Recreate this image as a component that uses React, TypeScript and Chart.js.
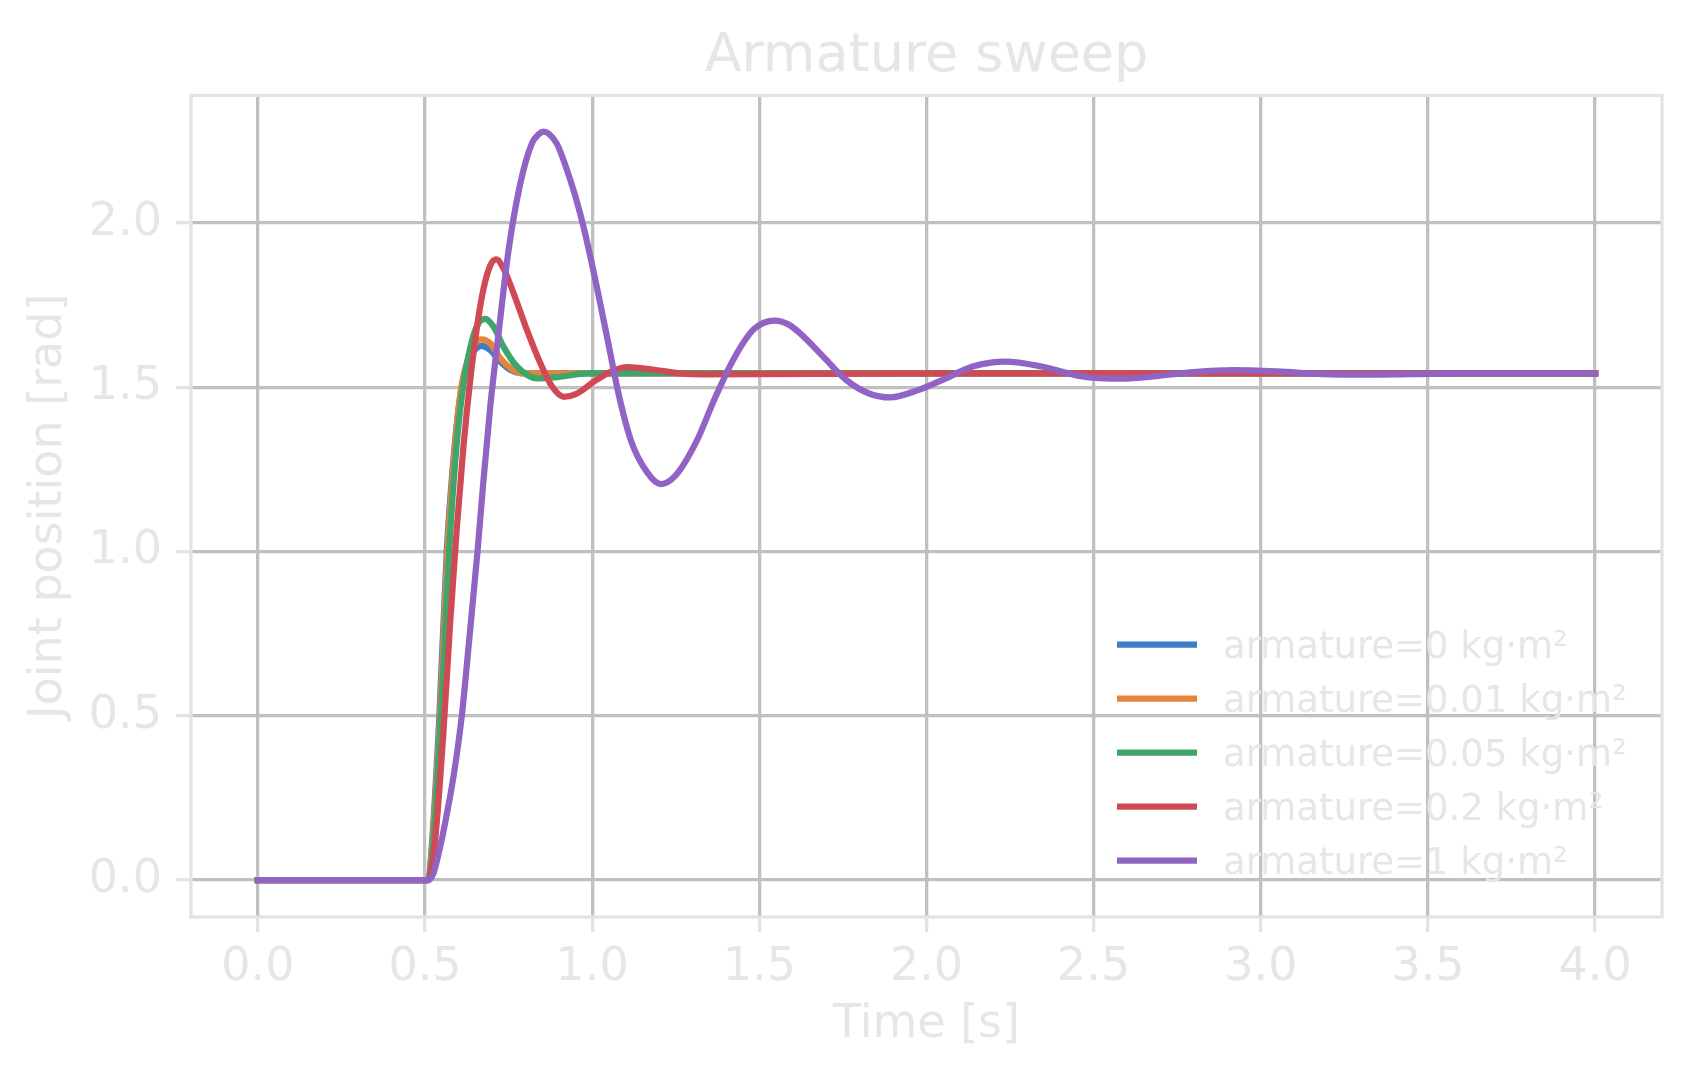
import React, { useEffect, useRef } from 'react';
import { Chart, registerables } from 'chart.js';

Chart.register(...registerables);

const chartTitle = 'Armature sweep';
const xLabel = 'Time [s]';
const yLabel = 'Joint position [rad]';

const xTicks = [0, 0.5, 1, 1.5, 2, 2.5, 3, 3.5, 4];
const yTicks = [0, 0.5, 1, 1.5, 2];

const seriesLabels = [
  'armature=0 kg·m²',
  'armature=0.01 kg·m²',
  'armature=0.05 kg·m²',
  'armature=0.2 kg·m²',
  'armature=1 kg·m²',
];
const seriesColors = ['#3a7dc8', '#e8833a', '#3ea66b', '#d04a56', '#9063c5'];

// armature = 0
const timeA0 = [0, 0.5, 0.51, 0.52, 0.543, 0.565, 0.585, 0.605, 0.63, 0.65, 0.668, 0.695, 0.725, 0.755, 0.785, 0.85, 1.0, 2.0, 3.0, 4.0];
const posA0 = [0, 0, 0, 0.1, 0.5, 1.0, 1.28, 1.47, 1.58, 1.615, 1.626, 1.613, 1.578, 1.553, 1.543, 1.542, 1.542, 1.542, 1.542, 1.542];

// armature = 0.01
const timeA1 = [0, 0.5, 0.51, 0.521, 0.545, 0.567, 0.587, 0.607, 0.632, 0.652, 0.668, 0.695, 0.725, 0.755, 0.795, 0.85, 1.0, 2.0, 3.0, 4.0];
const posA1 = [0, 0, 0, 0.1, 0.5, 1.0, 1.29, 1.49, 1.595, 1.635, 1.646, 1.634, 1.588, 1.558, 1.542, 1.542, 1.542, 1.542, 1.542, 1.542];

// armature = 0.05
const timeA2 = [0, 0.5, 0.51, 0.525, 0.548, 0.572, 0.595, 0.615, 0.64, 0.66, 0.68, 0.705, 0.735, 0.775, 0.835, 0.905, 0.985, 1.2, 2.0, 3.0, 4.0];
const posA2 = [0, 0, 0, 0.12, 0.5, 1.0, 1.33, 1.51, 1.64, 1.695, 1.708, 1.684, 1.623, 1.563, 1.527, 1.532, 1.542, 1.543, 1.542, 1.542, 1.542];

// armature = 0.2
const timeA3 = [0, 0.5, 0.51, 0.53, 0.555, 0.575, 0.595, 0.615, 0.635, 0.655, 0.675, 0.695, 0.713, 0.735, 0.765, 0.805, 0.845, 0.88, 0.915, 0.955, 1.005, 1.055, 1.105, 1.185, 1.265, 1.33, 2.0, 3.0, 4.0];
const posA3 = [0, 0, 0, 0.12, 0.45, 0.78, 1.07, 1.32, 1.52, 1.68, 1.8, 1.87, 1.889, 1.861, 1.786, 1.674, 1.573, 1.502, 1.471, 1.481, 1.517, 1.547, 1.561, 1.553, 1.542, 1.539, 1.542, 1.542, 1.542];

// armature = 1
const timeA4 = [0, 0.5, 0.51, 0.525, 0.545, 0.565, 0.586, 0.61, 0.633, 0.657, 0.675, 0.695, 0.72, 0.75, 0.785, 0.82, 0.84, 0.855, 0.87, 0.895, 0.92, 0.95, 0.975, 1.015, 1.05, 1.08, 1.117, 1.163, 1.205, 1.25, 1.312, 1.369, 1.427, 1.484, 1.547, 1.585, 1.622, 1.691, 1.76, 1.828, 1.892, 1.977, 2.058, 2.138, 2.236, 2.345, 2.46, 2.586, 2.69, 2.8, 2.917, 3.05, 3.17, 3.288, 3.45, 3.6, 4.0];
const posA4 = [0, 0, 0, 0.02, 0.1, 0.2, 0.32, 0.5, 0.74, 1.0, 1.218, 1.44, 1.664, 1.918, 2.12, 2.243, 2.27, 2.278, 2.272, 2.24, 2.175, 2.08, 1.985, 1.8, 1.625, 1.475, 1.335, 1.243, 1.205, 1.232, 1.335, 1.471, 1.593, 1.677, 1.703, 1.692, 1.664, 1.593, 1.522, 1.481, 1.469, 1.492, 1.527, 1.563, 1.578, 1.563, 1.534, 1.526, 1.534, 1.546, 1.552, 1.548, 1.541, 1.538, 1.54, 1.542, 1.542];

const seriesTimes = [timeA0, timeA1, timeA2, timeA3, timeA4];
const seriesPositions = [posA0, posA1, posA2, posA3, posA4];

const FONT = '"DejaVu Sans", sans-serif';
const TEXT = '#e6e6e6';
const SPINE = '#e3e3e3';
const GRID = '#c0c0c0';

// title, legend and axes frame drawn like matplotlib
const overlayPlugin = {
  id: 'overlay',
  afterDraw(chart: any) {
    const { ctx, chartArea: a } = chart;
    ctx.save();
    ctx.strokeStyle = SPINE;
    ctx.lineWidth = 3.3;
    ctx.strokeRect(a.left, a.top, a.right - a.left, a.bottom - a.top);

    ctx.fillStyle = TEXT;
    ctx.font = `54px ${FONT}`;
    ctx.textAlign = 'center';
    ctx.textBaseline = 'alphabetic';
    ctx.fillText(chartTitle, (a.left + a.right) / 2, a.top - 25);

    ctx.font = `37px ${FONT}`;
    ctx.textAlign = 'left';
    chart.data.datasets.forEach((ds: any, i: number) => {
      const base = a.bottom - 259 + i * 54;
      ctx.strokeStyle = ds.borderColor;
      ctx.lineWidth = 6.25;
      ctx.lineCap = 'butt';
      ctx.beginPath();
      ctx.moveTo(a.right - 545, base - 13.5);
      ctx.lineTo(a.right - 465, base - 13.5);
      ctx.stroke();
      ctx.fillStyle = TEXT;
      ctx.fillText(ds.label, a.right - 439, base);
    });
    ctx.restore();
  },
};

export default function App() {
  const canvasRef = useRef<HTMLCanvasElement>(null);
  const chartRef = useRef<Chart | null>(null);

  useEffect(() => {
    if (!canvasRef.current) return;
    if (chartRef.current) chartRef.current.destroy();

    const datasets = seriesLabels.map((label, i) => ({
      label,
      data: seriesTimes[i].map((t, k) => ({ x: t, y: seriesPositions[i][k] })),
      borderColor: seriesColors[i],
      backgroundColor: seriesColors[i],
      borderWidth: 6.25,
      pointRadius: 0,
      cubicInterpolationMode: 'monotone' as const,
      borderCapStyle: 'square' as const,
      borderJoinStyle: 'round' as const,
      order: seriesLabels.length - 1 - i,
    }));

    chartRef.current = new Chart(canvasRef.current, {
      type: 'line',
      data: { datasets },
      plugins: [overlayPlugin],
      options: {
        animation: false,
        responsive: false,
        devicePixelRatio: 1,
        layout: { padding: { top: 95.5, right: 29, left: 0, bottom: 0 } },
        plugins: {
          legend: { display: false },
          title: { display: false },
          tooltip: { enabled: false },
        },
        scales: {
          x: {
            type: 'linear',
            min: -0.2,
            max: 4.2,
            afterBuildTicks: (s: any) => {
              s.ticks = xTicks.map((v) => ({ value: v }));
            },
            afterFit: (s: any) => {
              s.height = 163;
            },
            ticks: {
              autoSkip: false,
              maxRotation: 0,
              padding: 8,
              color: TEXT,
              font: { family: FONT, size: 46 },
              callback: (v: any) => Number(v).toFixed(1),
            },
            grid: { color: GRID, lineWidth: 3.3, tickColor: SPINE, tickLength: 15, tickWidth: 3.3 },
            border: { display: false },
            title: {
              display: true,
              text: xLabel,
              color: TEXT,
              font: { family: FONT, size: 46 },
              padding: { top: 0, bottom: 27 },
            },
          },
          y: {
            type: 'linear',
            min: -0.1126,
            max: 2.388,
            afterBuildTicks: (s: any) => {
              s.ticks = yTicks.map((v) => ({ value: v }));
            },
            afterFit: (s: any) => {
              s.width = 191;
            },
            ticks: {
              padding: 14,
              color: TEXT,
              font: { family: FONT, size: 46 },
              callback: (v: any) => Number(v).toFixed(1),
            },
            grid: { color: GRID, lineWidth: 3.3, tickColor: SPINE, tickLength: 15, tickWidth: 3.3 },
            border: { display: false },
            title: {
              display: true,
              text: yLabel,
              color: TEXT,
              font: { family: FONT, size: 46 },
              padding: { top: 21, bottom: 0 },
            },
          },
        },
      },
    });

    return () => {
      if (chartRef.current) {
        chartRef.current.destroy();
        chartRef.current = null;
      }
    };
  }, []);

  return (
    <div style={{ position: 'absolute', left: 0, top: 0, width: 1691, height: 1080, background: '#fff' }}>
      <canvas ref={canvasRef} width={1691} height={1080} />
    </div>
  );
}
